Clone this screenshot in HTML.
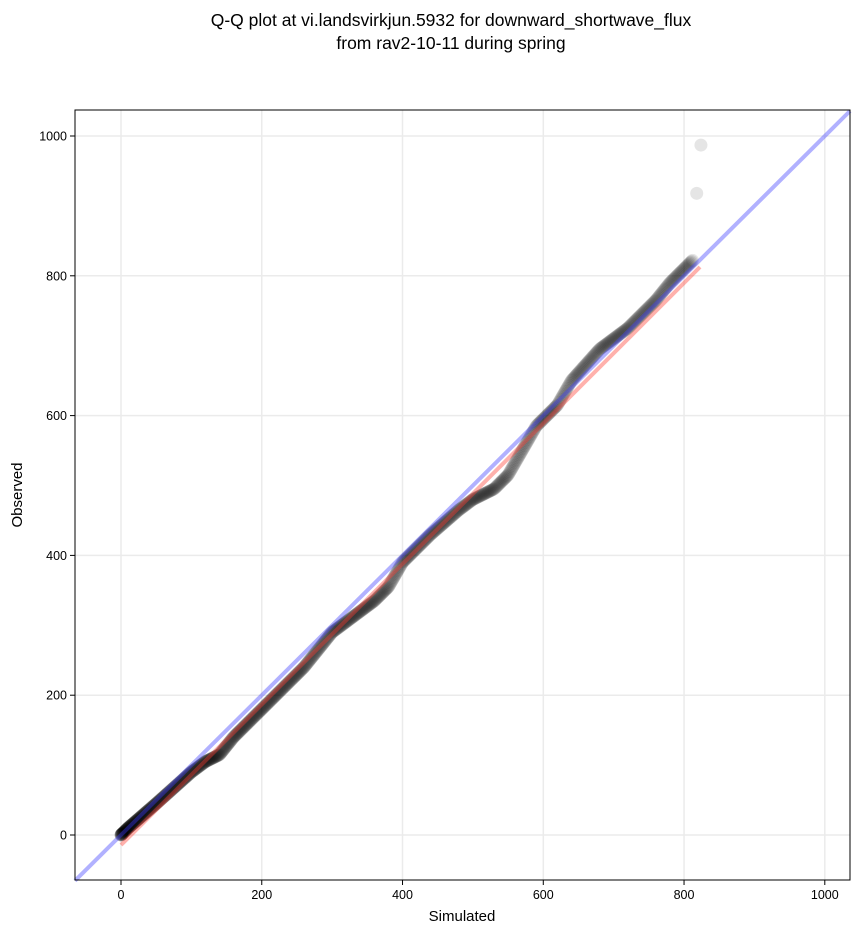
<!DOCTYPE html>
<html><head><meta charset="utf-8"><style>
body{margin:0;background:#fff;font-family:"Liberation Sans","DejaVu Sans",sans-serif;}
</style></head><body>
<svg id="s" width="860" height="934" xmlns="http://www.w3.org/2000/svg" style="display:block">
<rect width="860" height="934" fill="#fff"/>
<text x="451" y="26" text-anchor="middle" font-size="17.5">Q-Q plot at vi.landsvirkjun.5932 for downward_shortwave_flux</text>
<text x="451" y="49" text-anchor="middle" font-size="17.5">from rav2-10-11 during spring</text>
<g id="grid" stroke="#ebebeb" stroke-width="1.5"></g>
<g id="pts"></g>
<line x1="121" y1="845" x2="700" y2="267" stroke="#ff3b30" stroke-opacity="0.4" stroke-width="4"/>
<line x1="75" y1="880.7" x2="850" y2="111" stroke="#3b3bff" stroke-opacity="0.4" stroke-width="4"/>
<rect x="75" y="110" width="775" height="770" fill="none" stroke="#000" stroke-width="1"/>
<g id="ticks" font-size="12.5"></g>
<text x="462" y="921" text-anchor="middle" font-size="15">Simulated</text>
<text x="22" y="495" text-anchor="middle" font-size="15" transform="rotate(-90 22 495)">Observed</text>
</svg>
<script>
var NS="http://www.w3.org/2000/svg";
function X(v){return 121+v*0.7038;}function Y(v){return 835-v*0.699;}
function el(p,t,a,txt){var e=document.createElementNS(NS,t);for(var k in a)e.setAttribute(k,a[k]);if(txt)e.textContent=txt;document.getElementById(p).appendChild(e);}
for(var v=0;v<=1000;v+=200){
el("grid","line",{x1:X(v),x2:X(v),y1:110,y2:880});
el("grid","line",{x1:75,x2:850,y1:Y(v),y2:Y(v)});
el("ticks","line",{x1:X(v),x2:X(v),y1:880,y2:885,stroke:"#000"});
el("ticks","line",{x1:70,x2:75,y1:Y(v),y2:Y(v),stroke:"#000"});
el("ticks","text",{x:X(v),y:899,"text-anchor":"middle"},String(v));
el("ticks","text",{x:67,y:Y(v)+4.5,"text-anchor":"end"},String(v));
}
var P=[[0,0],[10,10],[50,45],[100,90],[120,105],[140,115],[160,140],[200,180],[220,200],[260,240],[300,290],[360,335],[380,355],[400,390],[440,430],[480,465],[500,480],[530,495],[550,515],[570,550],[590,585],[620,615],[640,650],[680,695],[720,725],[760,765],[780,790],[812,822]];
function interp(s){for(var i=1;i<P.length;i++){if(s<=P[i][0]){var a=P[i-1],b=P[i];return a[1]+(b[1]-a[1])*(s-a[0])/(b[0]-a[0]);}}return P[P.length-1][1];}
var N=800;
for(var i=0;i<N;i++){var q=i/(N-1);var s=812*Math.pow(q,1.35);
el("pts","circle",{cx:X(s),cy:Y(interp(s)),r:6.5,fill:"#000","fill-opacity":0.1});}
el("pts","circle",{cx:X(818),cy:Y(918),r:6.5,fill:"#000","fill-opacity":0.1});
el("pts","circle",{cx:X(824),cy:Y(987),r:6.5,fill:"#000","fill-opacity":0.1});
</script>
</body></html>
